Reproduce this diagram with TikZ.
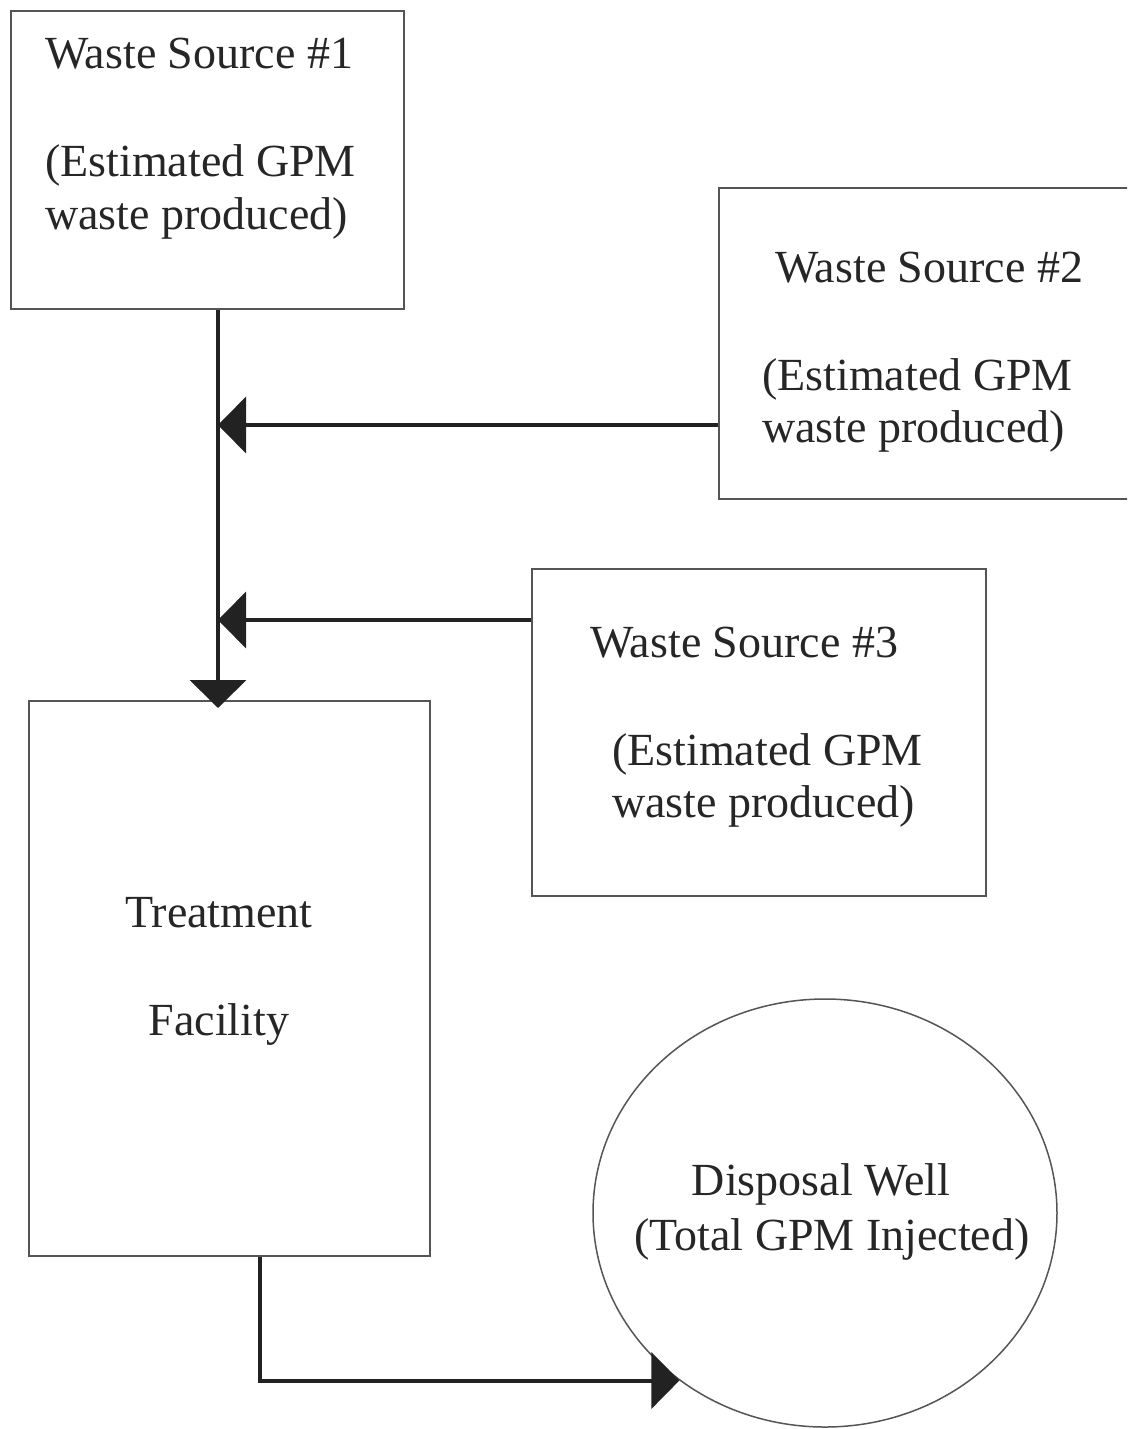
\documentclass[tikz,border=0pt]{standalone}
\usepackage{fontspec}
\setmainfont{Liberation Serif}
\usetikzlibrary{arrows.meta,shapes.geometric}
\definecolor{boxline}{HTML}{555555}
\definecolor{conn}{HTML}{222222}
\tikzset{
  box/.style={draw=boxline, line width=1.8pt, rectangle, anchor=north west, inner sep=0pt},
  wellshape/.style={draw=boxline, line width=1.5pt, ellipse, inner sep=0pt, minimum width=464pt, minimum height=428pt},
  txt/.style={anchor=base west, inner sep=0pt, text=black!85, font=\fontsize{46}{54}\selectfont},
  ctxt/.style={anchor=base, inner sep=0pt, text=black!85, font=\fontsize{46}{54}\selectfont},
  arr/.style={draw=conn, line width=4pt, -{Triangle[length=28pt,width=56pt]}},
  plain/.style={draw=conn, line width=4pt}
}
\begin{document}
\begin{tikzpicture}[x=1pt,y=-1pt]
\clip (0,0) rectangle (1127,1429);
\fill[white] (0,0) rectangle (1127,1429);
% boxes
\node[box, minimum width=393pt, minimum height=298pt] (s1) at (10,10) {};
\node[box, minimum width=420pt, minimum height=311pt] (s2) at (718,187) {};
\node[box, minimum width=454pt, minimum height=327pt] (s3) at (531,568) {};
\node[box, minimum width=401pt, minimum height=555pt] (treat) at (28,700) {};
\node[wellshape] (well) at (825,1213) {};
% texts
\node[txt] (s1a) at (45,68) {Waste Source \#1};
\node[txt] (s1b) at (45,176) {(Estimated GPM};
\node[txt] (s1c) at (45,229) {waste produced)};
\node[txt] (s2a) at (775,282) {Waste Source \#2};
\node[txt] (s2b) at (762,390) {(Estimated GPM};
\node[txt] (s2c) at (762,442) {waste produced)};
\node[txt] (s3a) at (590,657) {Waste Source \#3};
\node[txt] (s3b) at (612,765) {(Estimated GPM};
\node[txt] (s3c) at (612,817) {waste produced)};
\node[ctxt] (t1) at (219,927) {Treatment};
\node[ctxt] (t2) at (219,1035) {Facility};
\node[ctxt] (w1) at (821,1195) {Disposal Well};
\node[ctxt] (w2) at (832,1250) {(Total GPM Injected)};
% connectors
\coordinate (c2) at (218,425);
\coordinate (c3) at (218,620);
\coordinate (c4) at (260,1380);
\draw[arr, shorten >=-8pt] (s1.south -| c2) -- (treat.north -| c2);
\draw[arr] (s2.west |- c2) -- (c2);
\draw[arr] (s3.west |- c3) -- (c3);
\draw[arr] (treat.south -| c4) |- (well.229);
\end{tikzpicture}
\end{document}
